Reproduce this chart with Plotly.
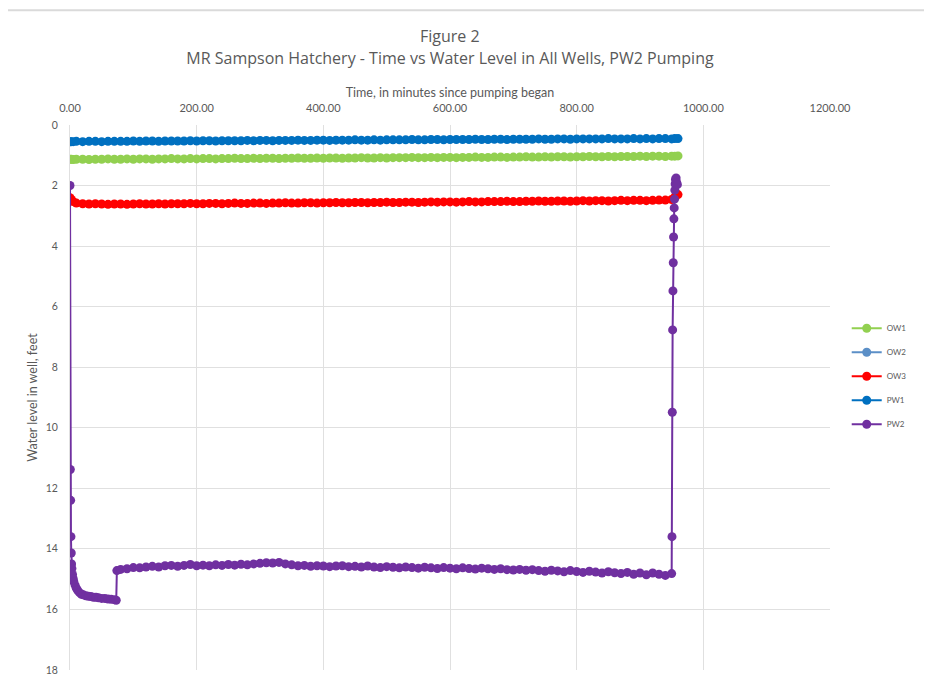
import plotly.graph_objects as go

# ---------------- data ----------------
t_main = [0, 2, 5, 10, 20, 30, 40, 50, 60, 70,
          80, 90, 100, 110, 120, 130, 140, 150, 160, 170,
          180, 190, 200, 210, 220, 230, 240, 250, 260, 270,
          280, 290, 300, 310, 320, 330, 340, 350, 360, 370,
          380, 390, 400, 410, 420, 430, 440, 450, 460, 470,
          480, 490, 500, 510, 520, 530, 540, 550, 560, 570,
          580, 590, 600, 610, 620, 630, 640, 650, 660, 670,
          680, 690, 700, 710, 720, 730, 740, 750, 760, 770,
          780, 790, 800, 810, 820, 830, 840, 850, 860, 870,
          880, 890, 900, 910, 920, 930, 940, 950, 955, 960]

pw1 = [0.55, 0.55, 0.55, 0.54, 0.55, 0.54, 0.54, 0.55, 0.54, 0.54,
       0.54, 0.54, 0.53, 0.54, 0.53, 0.53, 0.54, 0.53, 0.53, 0.53,
       0.53, 0.52, 0.53, 0.52, 0.52, 0.53, 0.52, 0.52, 0.52, 0.52,
       0.51, 0.52, 0.51, 0.51, 0.52, 0.51, 0.51, 0.51, 0.50, 0.51,
       0.51, 0.50, 0.50, 0.51, 0.50, 0.50, 0.50, 0.49, 0.50, 0.50,
       0.49, 0.50, 0.49, 0.49, 0.49, 0.49, 0.48, 0.49, 0.49, 0.48,
       0.48, 0.49, 0.48, 0.48, 0.48, 0.48, 0.47, 0.48, 0.48, 0.47,
       0.47, 0.48, 0.47, 0.47, 0.47, 0.47, 0.46, 0.47, 0.47, 0.46,
       0.46, 0.47, 0.46, 0.46, 0.46, 0.46, 0.46, 0.45, 0.46, 0.46,
       0.46, 0.45, 0.46, 0.45, 0.46, 0.45, 0.45, 0.46, 0.45, 0.45]

ow1 = [1.13, 1.13, 1.14, 1.13, 1.13, 1.14, 1.13, 1.13, 1.12, 1.13,
       1.13, 1.12, 1.13, 1.12, 1.12, 1.13, 1.12, 1.12, 1.11, 1.12,
       1.12, 1.11, 1.12, 1.11, 1.11, 1.12, 1.11, 1.11, 1.10, 1.11,
       1.11, 1.10, 1.11, 1.10, 1.10, 1.11, 1.10, 1.10, 1.09, 1.10,
       1.10, 1.09, 1.10, 1.09, 1.09, 1.10, 1.09, 1.09, 1.08, 1.09,
       1.09, 1.08, 1.09, 1.08, 1.08, 1.08, 1.07, 1.08, 1.08, 1.07,
       1.08, 1.07, 1.07, 1.08, 1.07, 1.07, 1.06, 1.07, 1.07, 1.06,
       1.06, 1.07, 1.06, 1.06, 1.05, 1.06, 1.06, 1.05, 1.06, 1.05,
       1.05, 1.06, 1.05, 1.05, 1.04, 1.05, 1.05, 1.04, 1.05, 1.04,
       1.04, 1.04, 1.03, 1.04, 1.03, 1.03, 1.04, 1.03, 1.03, 1.02]

ow3 = [2.40, 2.46, 2.53, 2.58, 2.60, 2.61, 2.60, 2.61, 2.62, 2.61,
       2.61, 2.62, 2.61, 2.60, 2.61, 2.61, 2.60, 2.61, 2.60, 2.60,
       2.60, 2.59, 2.60, 2.60, 2.59, 2.59, 2.60, 2.59, 2.58, 2.59,
       2.59, 2.58, 2.58, 2.59, 2.58, 2.58, 2.57, 2.58, 2.58, 2.57,
       2.57, 2.58, 2.57, 2.57, 2.56, 2.57, 2.57, 2.56, 2.56, 2.57,
       2.56, 2.56, 2.55, 2.56, 2.56, 2.55, 2.55, 2.56, 2.55, 2.54,
       2.55, 2.54, 2.54, 2.55, 2.54, 2.53, 2.54, 2.54, 2.53, 2.53,
       2.53, 2.52, 2.53, 2.53, 2.52, 2.52, 2.51, 2.52, 2.52, 2.51,
       2.51, 2.52, 2.51, 2.50, 2.51, 2.50, 2.50, 2.51, 2.50, 2.49,
       2.50, 2.49, 2.49, 2.50, 2.49, 2.48, 2.48, 2.46, 2.38, 2.30]

# OW2 has no visible data in the figure (legend entry only)
t_ow2 = [None]
ow2 = [None]

t_pw2 = [0, 0.5, 1, 1.5, 2, 2.5, 3, 4, 5, 6,
         8, 10, 12, 15, 18, 21, 25, 29, 33, 37,
         41, 45, 50, 55, 60, 65, 70, 73, 74,
         80, 90, 100, 110, 120, 130, 140, 150, 160, 170,
         180, 190, 200, 210, 220, 230, 240, 250, 260, 270,
         280, 290, 300, 310, 320, 330, 340, 350, 360, 370,
         380, 390, 400, 410, 420, 430, 440, 450, 460, 470,
         480, 490, 500, 510, 520, 530, 540, 550, 560, 570,
         580, 590, 600, 610, 620, 630, 640, 650, 660, 670,
         680, 690, 700, 710, 720, 730, 740, 750, 760, 770,
         780, 790, 800, 810, 820, 830, 840, 850, 860, 870,
         880, 890, 900, 910, 920, 930, 940, 950,
         950.5, 951, 951.5, 952, 952.5, 953, 953.5, 954, 954.5, 955,
         955.5, 956, 957, 958, 959]

pw2 = [2.00, 11.38, 12.40, 13.60, 14.14, 14.50, 14.65, 14.85, 14.98, 15.08,
       15.20, 15.30, 15.37, 15.45, 15.50, 15.52, 15.55, 15.57, 15.58, 15.60,
       15.60, 15.62, 15.64, 15.64, 15.66, 15.67, 15.68, 15.70, 14.72,
       14.68, 14.66, 14.62, 14.63, 14.60, 14.58, 14.60, 14.56, 14.55, 14.58,
       14.55, 14.52, 14.56, 14.54, 14.56, 14.53, 14.55, 14.52, 14.54, 14.51,
       14.53, 14.50, 14.48, 14.46, 14.47, 14.45, 14.50, 14.53, 14.56, 14.55,
       14.58, 14.56, 14.57, 14.59, 14.57, 14.56, 14.59, 14.58, 14.60, 14.57,
       14.60, 14.62, 14.59, 14.61, 14.63, 14.60, 14.62, 14.64, 14.61, 14.63,
       14.65, 14.62, 14.64, 14.66, 14.63, 14.65, 14.67, 14.64, 14.66, 14.68,
       14.66, 14.69, 14.70, 14.68, 14.71, 14.69, 14.72, 14.74, 14.71, 14.73,
       14.76, 14.72, 14.75, 14.78, 14.74, 14.77, 14.80, 14.76, 14.79, 14.82,
       14.78, 14.84, 14.80, 14.86, 14.80, 14.84, 14.88, 14.82,
       13.60, 9.49, 6.77, 5.48, 4.55, 3.70, 3.10, 2.74, 2.45, 2.15,
       1.95, 1.80, 1.75, 1.90, 1.97]

y_ticks = [0, 2, 4, 6, 8, 10, 12, 14, 16, 18]

series = [
    ("OW1", t_main, ow1, "#92D050"),
    ("OW2", t_ow2, ow2, "#5B8FC7"),
    ("OW3", t_main, ow3, "#FF0000"),
    ("PW1", t_main, pw1, "#0070C0"),
    ("PW2", t_pw2, pw2, "#7030A0"),
]

FONT = "Lato"
TFONT = "Open Sans"
GREY = "#595959"

W, H = 916, 677
L, T, PW, PH = 62, 117, 760, 551
B = H - T - PH
R = W - L - PW

fig = go.Figure()
for name, tx, vy, col in series:
    fig.add_trace(go.Scatter(
        x=tx, y=vy, name=name, mode="lines+markers",
        line=dict(color=col, width=2),
        marker=dict(color=col, size=9),
        legendgroup=name,
    ))

fig.update_layout(
    width=W, height=H,
    paper_bgcolor="white", plot_bgcolor="white",
    margin=dict(l=L, r=R, t=T, b=B),
    title=dict(
        text="MR Sampson Hatchery - Time vs Water Level in All Wells, PW2 Pumping",
        x=0.5, xref="paper", xanchor="center",
        y=1 - 50 / H, yref="container", yanchor="middle",
        font=dict(family=TFONT, size=16, color=GREY),
    ),
    annotations=[dict(
        text="Figure 2", xref="paper", yref="paper", x=0.5,
        y=(T + PH - 27) / PH,
        xanchor="center", yanchor="middle", showarrow=False,
        font=dict(family=TFONT, size=16, color=GREY),
    )],
    font=dict(family=FONT, color=GREY, size=10),
    showlegend=True,
    legend=dict(
        x=1.022, xanchor="left", y=0.539, yanchor="middle",
        font=dict(family=FONT, size=8, color=GREY),
        tracegroupgap=5, bgcolor="rgba(0,0,0,0)",
    ),
    xaxis=dict(
        side="top", range=[0, 1200], dtick=200, tickformat=".2f",
        showgrid=True, gridcolor="#E0E0E0", gridwidth=1,
        zeroline=False, showline=False,
        ticks="outside", ticklen=8, tickcolor="rgba(0,0,0,0)",
        tickfont=dict(family=FONT, size=11, color=GREY),
        title=dict(text="Time, in minutes since pumping began",
                   font=dict(family=FONT, size=12.5, color=GREY), standoff=0),
    ),
    yaxis=dict(
        range=[18.004, 0], tickmode="array", tickvals=y_ticks,
        showgrid=True, gridcolor="#E0E0E0", gridwidth=1,
        zeroline=False, showline=True, linecolor="#E0E0E0",
        ticks="outside", ticklen=9, tickcolor="rgba(0,0,0,0)",
        tickfont=dict(family=FONT, size=10.5, color=GREY),
        title=dict(text="Water level in well, feet",
                   font=dict(family=FONT, size=12.5, color=GREY), standoff=5),
    ),
    shapes=[dict(type="line", xref="paper", yref="paper",
                 x0=-0.1, x1=1.2, y0=(T + PH - 1) / PH, y1=(T + PH - 1) / PH,
                 line=dict(color="#DADADA", width=2))],
)

fig.write_html("out.html")
